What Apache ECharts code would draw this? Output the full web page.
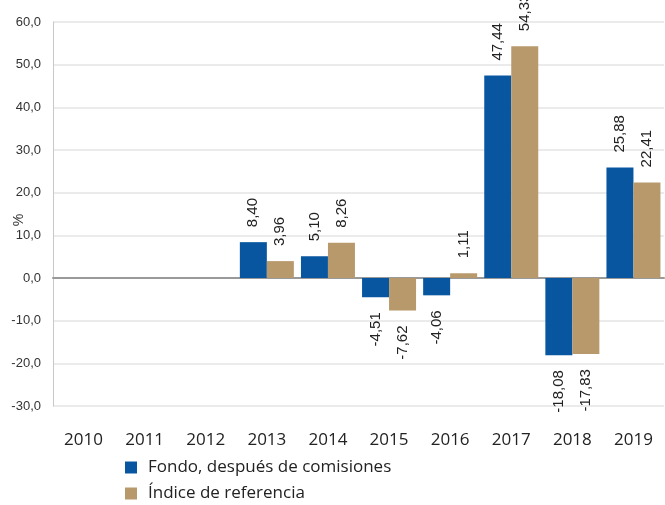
<!DOCTYPE html>
<html>
<head>
<meta charset="utf-8">
<script src="https://cdn.jsdelivr.net/npm/echarts@6/dist/echarts.min.js"></script>
<style>
  html, body { margin: 0; padding: 0; background: #fff; }
  #main { width: 665px; height: 505px; }
</style>
</head>
<body>
<div id="main"></div>
<script>
// años y rentabilidades (%)
var years = ['2010', '2011', '2012', '2013', '2014', '2015', '2016', '2017', '2018', '2019'];
var fondo = [null, null, null, 8.40, 5.10, -4.51, -4.06, 47.44, -18.08, 25.88];
var indice = [null, null, null, 3.96, 8.26, -7.62, 1.11, 54.33, -17.83, 22.41];
var seriesNames = ['Fondo, después de comisiones', 'Índice de referencia'];

var fmt = function (v) { return v.toFixed(2).replace('.', ','); };

// etiqueta girada: encima si positivo, debajo si negativo
function withLabels(arr) {
  return arr.map(function (v) {
    if (v === null) return null;
    return {
      value: v,
      label: v >= 0
        ? { position: 'top', align: 'left', verticalAlign: 'middle' }
        : { position: 'bottom', align: 'right', verticalAlign: 'middle' }
    };
  });
}

var labelStyle = {
  show: true,
  rotate: 90,
  distance: 15,
  fontSize: 15,
  color: '#222',
  fontFamily: 'Liberation Sans',
  formatter: function (p) { return fmt(p.value); }
};

var legendBase = {
  orient: 'vertical',
  left: 125,
  itemWidth: 12,
  itemHeight: 12,
  icon: 'rect',
  padding: 0,
  textStyle: { fontSize: 17, color: '#222', fontFamily: 'Open Sans', padding: [0, 0, 0, 6] }
};

var chart = echarts.init(document.getElementById('main'));
chart.setOption({
  animation: false,
  grid: { left: 53, right: 1, top: 22, bottom: 99, containLabel: false, outerBoundsMode: 'none' },
  legend: [
    Object.assign({}, legendBase, { top: 459, data: [seriesNames[0]] }),
    Object.assign({}, legendBase, { top: 485, data: [seriesNames[1]] })
  ],
  xAxis: [{
    type: 'category',
    data: years,
    position: 'bottom',
    axisLine: { show: false, onZero: false },
    axisTick: { show: false },
    axisLabel: { fontSize: 17, color: '#222', margin: 26, fontFamily: 'Open Sans' }
  }, {
    type: 'category',
    data: years,
    axisLine: { show: true, onZero: true, lineStyle: { color: '#999', width: 2 } },
    axisTick: { show: false },
    axisLabel: { show: false }
  }],
  yAxis: {
    type: 'value',
    min: -30,
    max: 60,
    interval: 10,
    name: '%',
    nameLocation: 'middle',
    nameRotate: 90,
    nameGap: 27,
    nameMoveOverlap: false,
    nameTextStyle: { fontSize: 14, color: '#333', fontFamily: 'Liberation Sans', padding: [0, 12, 0, 0] },
    axisLine: { show: true, lineStyle: { color: '#c8c8c8' } },
    axisTick: { show: false },
    axisLabel: {
      fontSize: 13, color: '#333', margin: 12, fontFamily: 'Liberation Sans',
      formatter: function (v) { return v.toFixed(1).replace('.', ','); }
    },
    splitLine: { lineStyle: { color: '#e4e4e4', width: 1.5 } }
  },
  series: [{
    name: seriesNames[0],
    type: 'bar',
    barWidth: 27,
    barGap: '0%',
    itemStyle: { color: '#0856a0' },
    label: labelStyle,
    data: withLabels(fondo)
  }, {
    name: seriesNames[1],
    type: 'bar',
    barWidth: 27,
    barGap: '0%',
    itemStyle: { color: '#b8996b' },
    label: labelStyle,
    data: withLabels(indice)
  }]
});
</script>
</body>
</html>
